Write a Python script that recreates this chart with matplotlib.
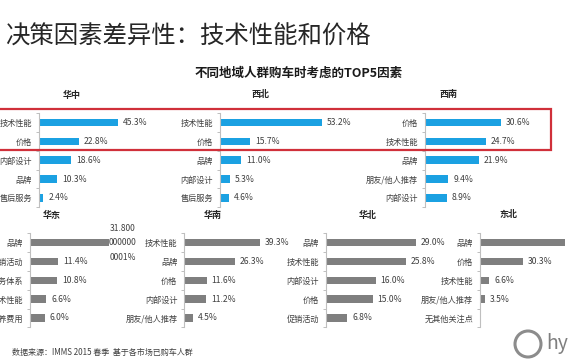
import matplotlib
matplotlib.use("Agg")
import matplotlib.pyplot as plt
from matplotlib.patches import Rectangle, Ellipse

plt.rcParams['font.family'] = ['Noto Sans CJK SC', 'DejaVu Sans']

W, H = 570, 360

title = "决策因素差异性：技术性能和价格"
subtitle = "不同地域人群购车时考虑的TOP5因素"
source = "数据来源：IMMS 2015 春季  基于各市场已购车人群"

# Top row (blue)
hz_labels = ["技术性能", "价格", "内部设计", "品牌", "售后服务"]
hz_values = [45.3, 22.8, 18.6, 10.3, 2.4]
xb_labels = ["技术性能", "价格", "品牌", "内部设计", "售后服务"]
xb_values = [53.2, 15.7, 11.0, 5.3, 4.6]
xn_labels = ["价格", "技术性能", "品牌", "朋友/他人推荐", "内部设计"]
xn_values = [30.6, 24.7, 21.9, 9.4, 8.9]

# Bottom row (gray)
hd_labels = ["品牌", "促销活动", "服务体系", "技术性能", "保养费用"]
hd_values = [31.8, 11.4, 10.8, 6.6, 6.0]
hd_value_text = ["31.800\n000000\n0001%", "11.4%", "10.8%", "6.6%", "6.0%"]
hn_labels = ["技术性能", "品牌", "价格", "内部设计", "朋友/他人推荐"]
hn_values = [39.3, 26.3, 11.6, 11.2, 4.5]
hb_labels = ["品牌", "技术性能", "内部设计", "价格", "促销活动"]
hb_values = [29.0, 25.8, 16.0, 15.0, 6.8]
db_labels = ["品牌", "价格", "技术性能", "朋友/他人推荐", "无其他关注点"]
db_values = [59.8, 30.3, 6.6, 3.5, 0.0]

BLUE = "#1BA1E2"
GRAY = "#7F7F7F"
TXT = "#404040"

fig = plt.figure(figsize=(W / 100, H / 100), dpi=100)
fig.patch.set_facecolor("white")


def fx(px):
    return px / W


def fy(py):
    return 1 - py / H


def panel(name, labels, values, x0, ppp, ytop, ybot, color, title_xy, value_text=None):
    width_px = 140
    ax = fig.add_axes([fx(x0), fy(ybot), width_px / W, (ybot - ytop) / H])
    n = len(values)
    ypos = list(range(n))
    ax.barh(ypos, values, height=0.4, color=color, clip_on=False)
    ax.set_xlim(0, width_px / ppp)
    ax.set_ylim(n - 0.5, -0.5)
    ax.set_yticks(ypos)
    ax.set_yticklabels(labels, fontsize=5.9, color=TXT)
    ax.tick_params(axis='y', which='major', length=0, pad=5)
    ax.set_yticks([i - 0.5 for i in range(n + 1)], minor=True)
    ax.tick_params(axis='y', which='minor', length=2.5, color="#BFBFBF", width=0.7)
    ax.set_xticks([])
    for s in ["top", "right", "bottom"]:
        ax.spines[s].set_visible(False)
    ax.spines["left"].set_color("#BFBFBF")
    ax.spines["left"].set_linewidth(0.8)
    ax.patch.set_alpha(0)
    for i, v in enumerate(values):
        if v <= 0:
            continue
        if value_text is not None and "\n" in value_text[i]:
            ax.text(v + 14 / ppp, i, value_text[i], ha="center", va="center",
                    fontsize=6.1, color=TXT, linespacing=1.8, clip_on=False)
        else:
            txt = value_text[i] if value_text is not None else f"{v:.1f}%"
            ax.text(v + 5 / ppp, i, txt, ha="left", va="center",
                    fontsize=6.2, color=TXT, clip_on=False)
    fig.text(fx(title_xy[0]), fy(title_xy[1]), name, ha="center", va="center",
             fontsize=6.5, fontweight="bold", color="#262626")
    return ax


top_y = (113.3, 207.2)
bot_y = (233.3, 327.4)

panel("华中", hz_labels, hz_values, 39, 1.745, *top_y, BLUE, (72, 95))
panel("西北", xb_labels, xb_values, 220, 1.91, *top_y, BLUE, (260, 95))
panel("西南", xn_labels, xn_values, 425, 2.47, *top_y, BLUE, (448, 95))

panel("华东", hd_labels, hd_values, 30, 2.48, *bot_y, GRAY, (52, 215), hd_value_text)
panel("华南", hn_labels, hn_values, 184.3, 1.93, *bot_y, GRAY, (213, 215))
panel("华北", hb_labels, hb_values, 326, 3.1, *bot_y, GRAY, (368, 215))
panel("东北", db_labels, db_values, 480, 1.42, *bot_y, GRAY, (508, 215))

fig.text(fx(5), fy(37), title, ha="left", va="center", fontsize=17.6, color="#262626")
fig.text(fx(299), fy(73), subtitle, ha="center", va="center", fontsize=9,
         fontweight="bold", color="#1a1a1a")
fig.text(fx(12), fy(352), source, ha="left", va="center", fontsize=5.8, color=TXT)

# red highlight box
rect = Rectangle((fx(-5), fy(150)), fx(556), (150 - 109) / H, transform=fig.transFigure,
                 fill=False, edgecolor="#D0303A", linewidth=1.6)
fig.patches.append(rect)

# logo approximation
logo = Ellipse((fx(528), fy(344)), 26 / W, 26 / H, transform=fig.transFigure,
               fill=False, edgecolor="#8C8C8C", linewidth=2.2)
fig.patches.append(logo)
fig.text(fx(546), fy(344), "hy", ha="left", va="center", fontsize=14, color="#7F7F7F")

fig.savefig("out.png", dpi=100)
